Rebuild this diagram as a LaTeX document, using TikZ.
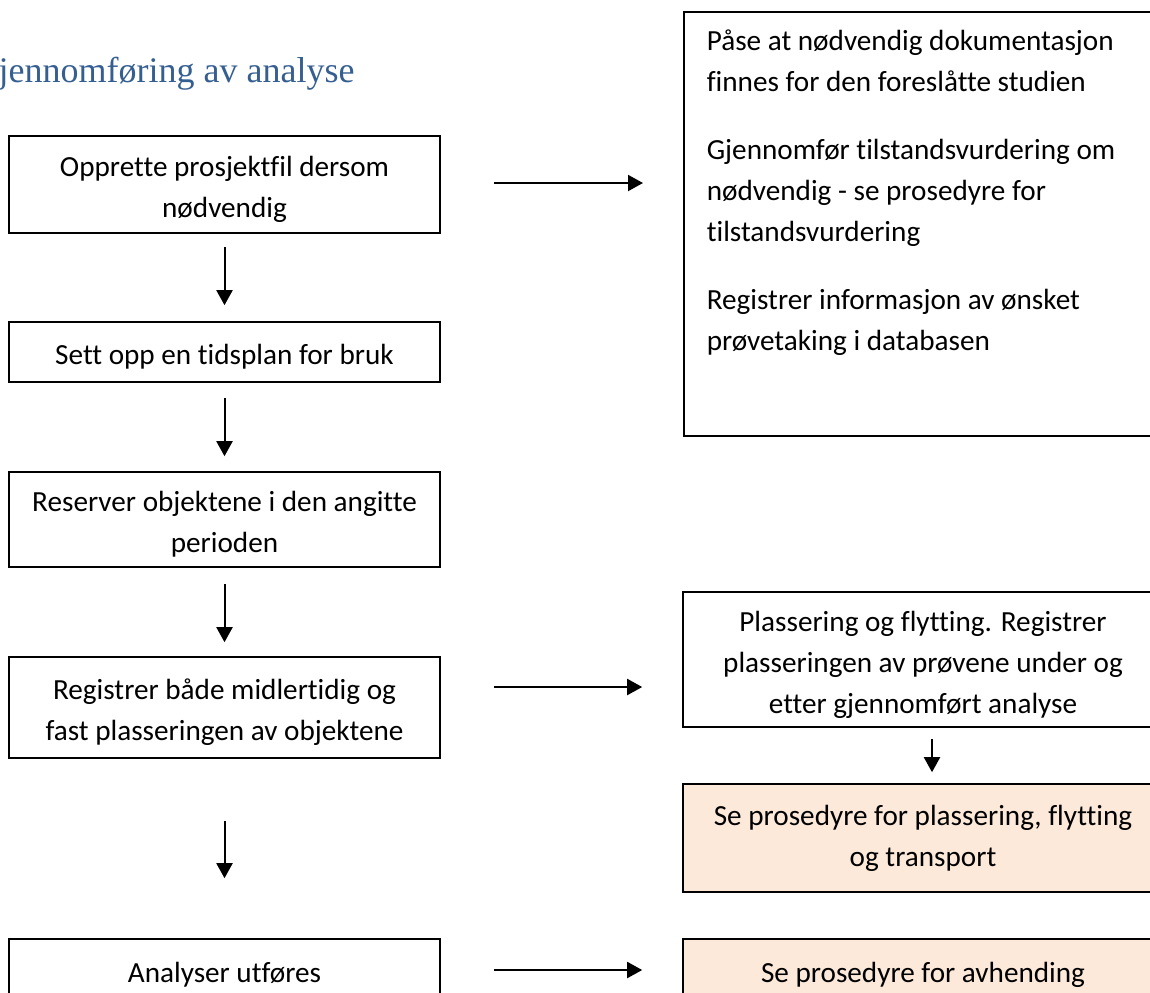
\documentclass[tikz,border=0pt]{standalone}
\usepackage{fontspec}
\setmainfont[Ligatures=NoCommon]{Carlito}
\newfontfamily\headfont{Liberation Serif}
\usetikzlibrary{arrows.meta}
\definecolor{headblue}{HTML}{365F91}
\definecolor{peach}{HTML}{FDE9D9}
% taller first line, pushes the centred text block slightly down
\newcommand{\firststrut}{\rule{0pt}{15pt}}
\begin{document}
\begin{tikzpicture}[x=0.5pt,y=-0.5pt,
  box/.style={draw=black, line width=0.8pt, align=center, inner sep=0pt,
    font=\fontsize{14.6}{20.5}\selectfont},
  leftbox/.style={box, minimum width=215.5pt},
  rightbox/.style={box, minimum width=240pt},
  refbox/.style={rightbox, fill=peach},
  arr/.style={line width=1pt, -{Triangle[length=7.5pt,width=8pt]}}]
\useasboundingbox (0,0) rectangle (1150,992);
\clip (0,0) rectangle (1150,992);

% heading
\node[anchor=base east, inner sep=0pt, text=headblue,
  font=\headfont\fontsize{18}{22}\selectfont] (title) at (355,82)
  {Gjennomføring av analyse};

% main sequence
\node[leftbox, minimum height=48.5pt] (b1) at (224.5,184.5)
  {\firststrut Opprette prosjektfil dersom\\nødvendig};
\node[leftbox, minimum height=30pt] (b2) at (224.5,352)
  {\firststrut Sett opp en tidsplan for bruk};
\node[leftbox, minimum height=47.5pt] (b3) at (224.5,519.5)
  {\firststrut Reserver objektene i den angitte\\perioden};
\node[leftbox, minimum height=50.5pt] (b4) at (224.5,707.5)
  {\firststrut Registrer både midlertidig og\\fast plasseringen av objektene};
\node[leftbox, minimum height=31pt] (b5) at (224.5,970)
  {\firststrut Analyser utføres};

% side notes
\node[box, anchor=north west, inner xsep=11.5pt, inner ysep=0pt] (r1) at (683,11)
  {\parbox[t][212pt][t]{217pt}{\rule{0pt}{19.5pt}Påse at nødvendig dokumentasjon\\
   finnes for den foreslåtte studien\\[13.5pt]
   Gjennomfør tilstandsvurdering om\\
   nødvendig - se prosedyre for\\
   tilstandsvurdering\\[13.5pt]
   Registrer informasjon av ønsket\\
   prøvetaking i databasen}};
\node[rightbox, minimum height=67.5pt] (r2) at (923,659.5)
  {\firststrut Plassering og flytting. Registrer\\plasseringen av prøvene under og\\etter gjennomført analyse};
\node[refbox, minimum height=54pt] (r3) at (923,838)
  {Se prosedyre for plassering, flytting\\og transport};
\node[refbox, minimum height=31pt] (r4) at (923,970)
  {\firststrut Se prosedyre for avhending};

% vertical connectors
\draw[arr] ([yshift=-6.5pt]b1.south) -- ([yshift=8pt]b2.north);
\draw[arr] ([yshift=-7.5pt]b2.south) -- ([yshift=7.5pt]b3.north);
\draw[arr] ([yshift=-8pt]b3.south) -- ([yshift=7pt]b4.north);
\draw[arr] ([yshift=-31pt]b4.south) -- ([yshift=30pt]b5.north);
\draw[arr] ([xshift=4.5pt,yshift=-5.5pt]r2.south) -- ([xshift=4.5pt,yshift=5.5pt]r3.north);

% horizontal connectors
\draw[arr] ([xshift=26.5pt,yshift=0.75pt]b1.east) -- ([xshift=-20pt,yshift=0.75pt]b1.east -| r1.west);
\draw[arr] ([xshift=26.5pt,yshift=10.25pt]b4.east) -- ([xshift=-20pt,yshift=10.25pt]b4.east -| r2.west);
\draw[arr] ([xshift=26.5pt]b5.east) -- ([xshift=-20pt]b5.east -| r4.west);
\end{tikzpicture}
\end{document}
